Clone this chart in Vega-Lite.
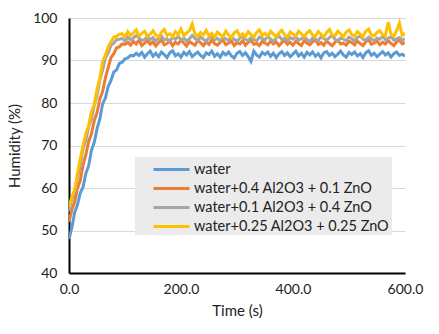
{
 "$schema": "https://vega.github.io/schema/vega-lite/v6.json",
 "width": 336, "height": 255,
 "autosize": {"type": "none"},
 "padding": {"left": 69, "top": 18, "right": 34, "bottom": 61},
 "background": "white",
 "config": {"font": "Lato", "view": {"stroke": null}},
 "data": {"values": [
{"t":0,"a":48.0,"b":52.0,"c":54.5,"d":55.5},
{"t":5,"a":50.6,"b":54.8,"c":57.3,"d":57.9},
{"t":10,"a":54.2,"b":56.7,"c":59.0,"d":59.5},
{"t":15,"a":56.0,"b":59.9,"c":62.4,"d":63.3},
{"t":20,"a":58.8,"b":61.7,"c":65.2,"d":66.8},
{"t":25,"a":60.2,"b":65.3,"c":69.3,"d":70.0},
{"t":30,"a":63.4,"b":67.8,"c":71.2,"d":72.8},
{"t":35,"a":65.2,"b":70.9,"c":74.3,"d":74.7},
{"t":40,"a":68.8,"b":72.7,"c":76.2,"d":77.9},
{"t":45,"a":70.7,"b":75.8,"c":79.3,"d":79.6},
{"t":50,"a":73.9,"b":77.7,"c":81.8,"d":83.2},
{"t":55,"a":76.2,"b":80.9,"c":85.3,"d":85.8},
{"t":60,"a":79.8,"b":82.7,"c":87.8,"d":89.7},
{"t":65,"a":81.2,"b":85.9,"c":90.6,"d":91.3},
{"t":70,"a":83.9,"b":88.3,"c":91.8,"d":93.2},
{"t":75,"a":85.3,"b":90.7,"c":93.6,"d":94.4},
{"t":80,"a":87.3,"b":91.6,"c":94.1,"d":95.5},
{"t":85,"a":87.8,"b":93.0,"c":94.9,"d":95.7},
{"t":90,"a":89.3,"b":93.2,"c":95.0,"d":96.2},
{"t":95,"a":89.6,"b":93.9,"c":95.2,"d":96.3},
{"t":100,"a":90.4,"b":93.8,"c":94.6,"d":95.6},
{"t":105,"a":90.6,"b":94.3,"c":95.5,"d":96.8},
{"t":110,"a":91.2,"b":93.6,"c":94.8,"d":95.9},
{"t":115,"a":91.1,"b":94.5,"c":95.3,"d":96.5},
{"t":120,"a":91.7,"b":93.9,"c":95.9,"d":97.2},
{"t":125,"a":91.2,"b":94.8,"c":95.3,"d":95.8},
{"t":130,"a":91.9,"b":93.5,"c":94.7,"d":96.4},
{"t":135,"a":90.8,"b":94.1,"c":95.0,"d":96.9},
{"t":140,"a":91.6,"b":94.7,"c":95.6,"d":95.7},
{"t":145,"a":92.2,"b":93.8,"c":94.9,"d":96.2},
{"t":150,"a":91.0,"b":94.4,"c":95.4,"d":97.0},
{"t":155,"a":91.7,"b":93.4,"c":94.6,"d":96.0},
{"t":160,"a":90.9,"b":94.2,"c":95.2,"d":95.5},
{"t":165,"a":92.0,"b":94.9,"c":95.8,"d":96.6},
{"t":170,"a":91.4,"b":93.7,"c":94.8,"d":97.3},
{"t":175,"a":90.7,"b":94.0,"c":95.1,"d":95.9},
{"t":180,"a":91.8,"b":94.6,"c":94.5,"d":96.3},
{"t":185,"a":92.3,"b":93.5,"c":95.5,"d":95.6},
{"t":190,"a":91.1,"b":94.3,"c":95.0,"d":96.8},
{"t":195,"a":91.6,"b":93.9,"c":95.7,"d":96.1},
{"t":200,"a":90.8,"b":94.8,"c":94.8,"d":97.4},
{"t":205,"a":91.9,"b":94.1,"c":95.3,"d":95.8},
{"t":210,"a":91.3,"b":93.4,"c":94.6,"d":96.5},
{"t":215,"a":92.1,"b":94.5,"c":95.1,"d":97.0},
{"t":220,"a":90.9,"b":94.0,"c":95.9,"d":98.6},
{"t":225,"a":91.5,"b":93.6,"c":95.2,"d":96.2},
{"t":230,"a":92.0,"b":94.7,"c":94.7,"d":95.7},
{"t":235,"a":91.2,"b":94.2,"c":95.5,"d":96.6},
{"t":240,"a":90.7,"b":93.5,"c":95.0,"d":96.0},
{"t":245,"a":91.8,"b":94.4,"c":94.5,"d":97.1},
{"t":250,"a":91.4,"b":93.8,"c":95.4,"d":95.8},
{"t":255,"a":92.2,"b":94.9,"c":95.8,"d":96.4},
{"t":260,"a":91.0,"b":94.0,"c":94.9,"d":95.5},
{"t":265,"a":91.6,"b":93.6,"c":95.2,"d":96.7},
{"t":270,"a":90.8,"b":94.3,"c":94.6,"d":96.1},
{"t":275,"a":91.9,"b":94.8,"c":95.5,"d":95.6},
{"t":280,"a":91.3,"b":93.7,"c":95.1,"d":96.9},
{"t":285,"a":92.0,"b":94.1,"c":94.7,"d":96.0},
{"t":290,"a":91.1,"b":94.6,"c":95.6,"d":95.4},
{"t":295,"a":90.6,"b":93.5,"c":95.0,"d":96.5},
{"t":300,"a":91.7,"b":94.2,"c":94.5,"d":97.0},
{"t":305,"a":92.1,"b":93.9,"c":95.3,"d":95.8},
{"t":310,"a":91.2,"b":94.7,"c":95.9,"d":96.3},
{"t":315,"a":91.8,"b":93.6,"c":95.0,"d":95.6},
{"t":320,"a":90.9,"b":94.3,"c":94.7,"d":96.8},
{"t":325,"a":89.8,"b":94.8,"c":95.4,"d":96.1},
{"t":330,"a":92.2,"b":93.8,"c":95.0,"d":95.5},
{"t":335,"a":91.3,"b":94.0,"c":94.6,"d":96.6},
{"t":340,"a":90.8,"b":93.5,"c":95.5,"d":97.2},
{"t":345,"a":91.9,"b":94.5,"c":95.2,"d":95.9},
{"t":350,"a":91.4,"b":94.1,"c":94.8,"d":96.4},
{"t":355,"a":92.0,"b":93.7,"c":95.7,"d":95.7},
{"t":360,"a":91.0,"b":94.6,"c":95.0,"d":96.9},
{"t":365,"a":91.7,"b":93.9,"c":94.5,"d":96.2},
{"t":370,"a":90.7,"b":94.4,"c":95.3,"d":95.6},
{"t":375,"a":91.6,"b":93.5,"c":95.8,"d":96.5},
{"t":380,"a":92.1,"b":94.2,"c":94.9,"d":97.1},
{"t":385,"a":91.2,"b":94.8,"c":95.2,"d":96.0},
{"t":390,"a":91.8,"b":93.8,"c":94.6,"d":95.5},
{"t":395,"a":90.9,"b":94.3,"c":95.4,"d":96.7},
{"t":400,"a":91.5,"b":93.6,"c":95.0,"d":96.2},
{"t":405,"a":92.2,"b":94.5,"c":95.6,"d":95.8},
{"t":410,"a":91.1,"b":94.0,"c":94.8,"d":96.9},
{"t":415,"a":91.7,"b":93.5,"c":95.1,"d":96.3},
{"t":420,"a":90.8,"b":94.7,"c":95.7,"d":95.6},
{"t":425,"a":91.9,"b":94.1,"c":94.9,"d":96.5},
{"t":430,"a":91.3,"b":93.7,"c":94.5,"d":97.0},
{"t":435,"a":92.0,"b":94.4,"c":95.3,"d":96.0},
{"t":440,"a":91.0,"b":94.9,"c":95.0,"d":95.7},
{"t":445,"a":91.6,"b":93.8,"c":94.7,"d":96.8},
{"t":450,"a":90.6,"b":94.2,"c":95.6,"d":96.2},
{"t":455,"a":91.8,"b":93.6,"c":95.2,"d":95.5},
{"t":460,"a":92.1,"b":94.6,"c":94.8,"d":96.6},
{"t":465,"a":91.2,"b":94.0,"c":95.4,"d":97.3},
{"t":470,"a":91.7,"b":93.5,"c":95.9,"d":96.0},
{"t":475,"a":90.9,"b":94.3,"c":95.0,"d":95.8},
{"t":480,"a":91.5,"b":94.8,"c":94.6,"d":96.9},
{"t":485,"a":92.2,"b":93.9,"c":95.3,"d":96.3},
{"t":490,"a":91.3,"b":94.1,"c":95.0,"d":95.6},
{"t":495,"a":90.8,"b":93.6,"c":94.7,"d":96.7},
{"t":500,"a":91.9,"b":94.5,"c":95.5,"d":97.2},
{"t":505,"a":91.4,"b":94.2,"c":95.1,"d":96.1},
{"t":510,"a":92.0,"b":93.7,"c":94.6,"d":95.7},
{"t":515,"a":91.1,"b":94.6,"c":95.4,"d":96.8},
{"t":520,"a":91.6,"b":94.0,"c":95.8,"d":96.2},
{"t":525,"a":90.7,"b":93.5,"c":95.0,"d":95.6},
{"t":530,"a":91.8,"b":94.4,"c":94.8,"d":96.9},
{"t":535,"a":92.3,"b":94.9,"c":95.5,"d":97.4},
{"t":540,"a":91.2,"b":93.8,"c":95.1,"d":96.0},
{"t":545,"a":91.7,"b":94.1,"c":94.6,"d":95.8},
{"t":550,"a":90.9,"b":94.6,"c":95.3,"d":96.6},
{"t":555,"a":91.5,"b":93.7,"c":95.0,"d":97.0},
{"t":560,"a":92.1,"b":94.3,"c":95.7,"d":96.1},
{"t":565,"a":91.3,"b":93.9,"c":94.9,"d":95.9},
{"t":570,"a":91.8,"b":94.7,"c":95.2,"d":99.0},
{"t":575,"a":90.8,"b":94.0,"c":95.6,"d":96.2},
{"t":580,"a":91.6,"b":93.5,"c":94.8,"d":95.7},
{"t":585,"a":92.0,"b":94.4,"c":95.1,"d":97.0},
{"t":590,"a":91.2,"b":94.8,"c":95.4,"d":98.8},
{"t":595,"a":91.5,"b":93.9,"c":94.7,"d":95.9},
{"t":600,"a":91.0,"b":94.2,"c":95.2,"d":96.4}
 ]},
 "transform": [{"fold": ["a", "b", "c", "d"], "as": ["s", "h"]}],
 "mark": {"type": "line", "strokeWidth": 3, "clip": true},
 "encoding": {
  "x": {"field": "t", "type": "quantitative", "scale": {"domain": [0, 600]},
   "axis": {"values": [0, 200, 400, 600], "format": ".1f", "title": "Time (s)", "grid": false, "ticks": false,
    "domainColor": "black", "domainWidth": 2, "labelFontSize": 14, "titleFontSize": 15, "labelPadding": 9, "titlePadding": 7,
    "titleFontWeight": "normal", "labelColor": "#222", "titleColor": "#222", "labelFlush": false}},
  "y": {"field": "h", "type": "quantitative", "scale": {"domain": [40, 100]},
   "axis": {"values": [40, 50, 60, 70, 80, 90, 100], "title": "Humidity (%)", "ticks": false, "gridColor": "#D9D9D9", "gridWidth": 1,
    "domainColor": "black", "domainWidth": 2, "labelFontSize": 14, "titleFontSize": 15, "labelPadding": 12, "titlePadding": 10,
    "titleFontWeight": "normal", "labelColor": "#222", "titleColor": "#222"}},
  "color": {"field": "s", "type": "nominal",
   "scale": {"domain": ["a", "b", "c", "d"], "range": ["#5B9BD5", "#ED7D31", "#A5A5A5", "#FFC000"]},
   "legend": {"title": null, "orient": "none", "legendX": 66, "legendY": 139, "fillColor": "#EBEBEB", "padding": 2,
    "symbolType": "M-2,0H2", "symbolSize": 324, "symbolStrokeWidth": 3, "symbolOffset": 24, "labelFontSize": 14.5, "labelColor": "#222", "labelOffset": 12,
    "rowPadding": 2, "labelLimit": 300,
    "labelExpr": "datum.value == 'a' ? 'water' : datum.value == 'b' ? 'water+0.4 Al2O3 + 0.1 ZnO' : datum.value == 'c' ? 'water+0.1 Al2O3 + 0.4 ZnO' : 'water+0.25 Al2O3 + 0.25 ZnO'"}}
 }
}
